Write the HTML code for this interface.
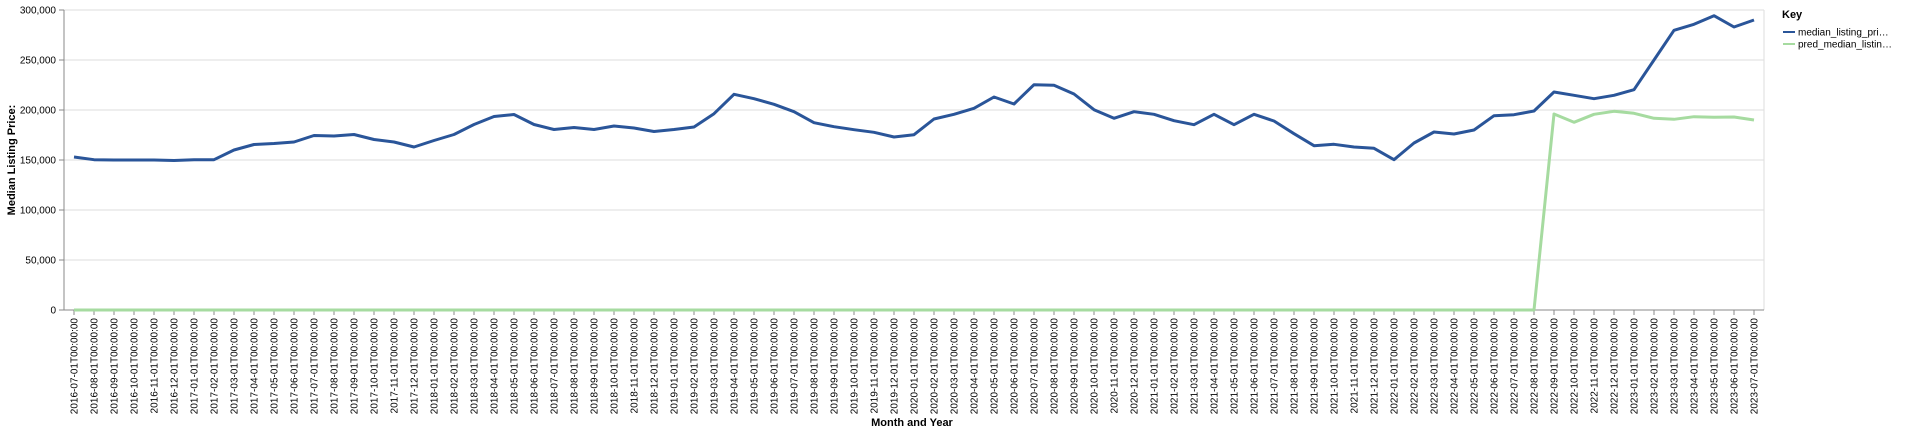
<!DOCTYPE html>
<html><head><meta charset="utf-8"><style>
body{margin:0;background:#fff;width:1920px;height:434px;overflow:hidden}
svg{display:block;font-family:"Liberation Sans",sans-serif}
</style></head><body>
<svg id="chart" width="1920" height="434"></svg>
<script>
const categories = [];
(function(){let y=2016,m=7;for(let i=0;i<85;i++){categories.push(y+'-'+String(m).padStart(2,'0')+'-01T00:00:00');m++;if(m>12){m=1;y++;}}})();
const actualValues = [153000,150300,150000,150000,150000,149500,150300,150300,160000,165500,166500,168000,174500,174000,175500,170500,168000,163000,169500,175500,185500,193500,195500,185500,180500,182500,180500,184000,182000,178500,180500,183000,196300,215700,211300,205700,198300,187300,183300,180300,177700,173000,175300,191000,195700,201700,213000,206000,225300,224700,216000,200300,191700,198300,195700,189300,185300,195700,185300,195700,189000,176300,164300,165700,163000,161700,150300,167000,178000,176000,180000,194300,195300,199000,218000,214700,211300,214700,220300,250000,279700,285700,294300,283000,290000];
const predValues = [0,0,0,0,0,0,0,0,0,0,0,0,0,0,0,0,0,0,0,0,0,0,0,0,0,0,0,0,0,0,0,0,0,0,0,0,0,0,0,0,0,0,0,0,0,0,0,0,0,0,0,0,0,0,0,0,0,0,0,0,0,0,0,0,0,0,0,0,0,0,0,0,0,0,196000,187700,195700,198700,196700,191700,190700,193300,192700,193000,190000];
const yTicks = [0,50000,100000,150000,200000,250000,300000];
const seriesNames = ['median_listing_pri…','pred_median_listin…'];

const NS='http://www.w3.org/2000/svg';
const svg=document.getElementById('chart');
const L=64,R=1764,T=10,B=310;
const x=i=>74+i*20;
const y=v=>B-(v/300000)*(B-T);
function el(t,a,p){const e=document.createElementNS(NS,t);for(const k in a)e.setAttribute(k,a[k]);(p||svg).appendChild(e);return e;}

const grid=el('g',{});


yTicks.forEach(v=>{
  el('line',{x1:L,x2:R,y1:y(v),y2:y(v),stroke:'#ddd','stroke-width':1},grid);
  el('line',{x1:L-5,x2:L,y1:y(v),y2:y(v),stroke:'#888'},grid);
  const t=el('text',{x:L-8,y:y(v)+3.5,'text-anchor':'end','font-size':10,fill:'#000'});
  
  
  t.textContent=v.toLocaleString('en-US');
});
el('line',{x1:R,x2:R,y1:T,y2:B,stroke:'#ddd'});
el('line',{x1:L,x2:L,y1:T,y2:B,stroke:'#888'});
el('line',{x1:L,x2:R,y1:B,y2:B,stroke:'#888'});

categories.forEach((c,i)=>{
  el('line',{x1:x(i),x2:x(i),y1:B,y2:B+5,stroke:'#888'});
  const t=el('text',{transform:`translate(${x(i)+3.5},${B+8}) rotate(-90)`,'text-anchor':'end','font-size':10,fill:'#000'});
  
  
  t.textContent=c;
});

function line(vals,color,name){
  const d=vals.map((v,i)=>(i?'L':'M')+x(i)+','+y(v)).join('');
  const p=el('path',{d,fill:'none',stroke:color,'stroke-width':3,'stroke-linejoin':'round'});
  
  
}
line(predValues,'#a6dba0','pred-median-listing-price-line');
line(actualValues,'#2a5599','median-listing-price-line');

const yt=el('text',{transform:'translate(15,160) rotate(-90)','text-anchor':'middle','font-size':11,'font-weight':'bold'});


yt.textContent='Median Listing Price:';
const xt=el('text',{x:912,y:426,'text-anchor':'middle','font-size':11,'font-weight':'bold'});


xt.textContent='Month and Year';

const lg=el('g',{});


const kt=el('text',{x:1782,y:18,'font-size':11,'font-weight':'bold'},lg);
kt.textContent='Key';
['#2a5599','#a6dba0'].forEach((c,i)=>{
  const g=el('g',{},lg);
  
  
  el('line',{x1:1783,x2:1795,y1:32+i*12,y2:32+i*12,stroke:c,'stroke-width':2},g);
  const t=el('text',{x:1798,y:35.5+i*12,'font-size':10},g);
  t.textContent=seriesNames[i];
});
</script>
</body></html>
